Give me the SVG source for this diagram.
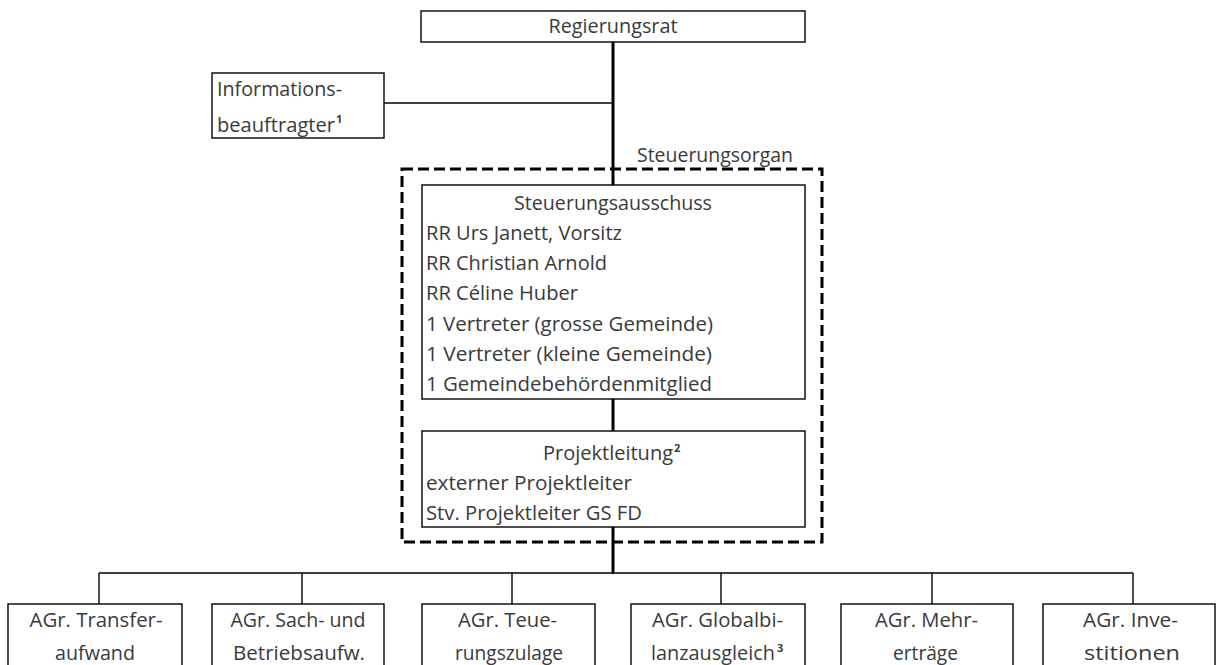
<svg xmlns="http://www.w3.org/2000/svg" width="1217" height="665" viewBox="0 0 1217 665">
<style>
.box{fill:#fff;stroke:#000;stroke-width:1.4}
.t{font-family:"Open Sans","Liberation Sans",sans-serif;font-size:20px;fill:#3a3a3a}
.m{text-anchor:middle}
.sup{font-family:"Open Sans","Liberation Sans",sans-serif;font-size:11px;font-weight:bold;fill:#3a3a3a}
.thin{stroke:#000;stroke-width:1.4;fill:none}
.thick{stroke:#000;stroke-width:3;fill:none}
.dash{stroke:#000;stroke-width:3;fill:none;stroke-dasharray:11 5}
</style>
<rect width="1217" height="665" fill="#fff"/>
<g id="connectors">
<line class="thick" x1="613" y1="42" x2="613" y2="185"/>
<line class="thin" x1="384" y1="103" x2="613" y2="103"/>
<line class="thick" x1="613" y1="399" x2="613" y2="431"/>
<line class="thick" x1="613" y1="527" x2="613" y2="574"/>
<line class="thin" x1="99" y1="573" x2="1133" y2="573"/>
<line class="thin" x1="99" y1="573" x2="99" y2="604"/>
<line class="thin" x1="302" y1="573" x2="302" y2="604"/>
<line class="thin" x1="512" y1="573" x2="512" y2="604"/>
<line class="thin" x1="721" y1="573" x2="721" y2="604"/>
<line class="thin" x1="932" y1="573" x2="932" y2="604"/>
<line class="thin" x1="1133" y1="573" x2="1133" y2="604"/>
</g>
<g id="regierungsrat">
<rect class="box" x="421" y="11" width="384" height="31"/>
<text class="t m" x="613" y="33" textLength="129" lengthAdjust="spacingAndGlyphs">Regierungsrat</text>
</g>
<g id="informationsbeauftragter">
<rect class="box" x="212" y="73" width="172" height="65"/>
<text class="t" x="217" y="96" textLength="125" lengthAdjust="spacingAndGlyphs">Informations-</text>
<text class="t" x="217" y="132" textLength="118" lengthAdjust="spacingAndGlyphs">beauftragter</text>
<text class="sup" x="336" y="123">1</text>
</g>
<g id="steuerungsorgan">
<rect class="dash" x="402" y="169" width="420" height="373"/>
<text class="t" x="637" y="162" textLength="156" lengthAdjust="spacingAndGlyphs">Steuerungsorgan</text>
</g>
<g id="steuerungsausschuss">
<rect class="box" x="422" y="185" width="383" height="214"/>
<text class="t m" x="613" y="210" textLength="198" lengthAdjust="spacingAndGlyphs">Steuerungsausschuss</text>
<text class="t" x="426" y="240" textLength="196" lengthAdjust="spacingAndGlyphs">RR Urs Janett, Vorsitz</text>
<text class="t" x="426" y="270" textLength="181" lengthAdjust="spacingAndGlyphs">RR Christian Arnold</text>
<text class="t" x="426" y="300" textLength="152" lengthAdjust="spacingAndGlyphs">RR Céline Huber</text>
<text class="t" x="426" y="331" textLength="287" lengthAdjust="spacingAndGlyphs">1 Vertreter (grosse Gemeinde)</text>
<text class="t" x="426" y="361" textLength="286" lengthAdjust="spacingAndGlyphs">1 Vertreter (kleine Gemeinde)</text>
<text class="t" x="426" y="391" textLength="286" lengthAdjust="spacingAndGlyphs">1 Gemeindebehördenmitglied</text>
</g>
<g id="projektleitung">
<rect class="box" x="422" y="431" width="383" height="96"/>
<text class="t" x="543" y="460" textLength="130" lengthAdjust="spacingAndGlyphs">Projektleitung</text>
<text class="sup" x="674" y="452">2</text>
<text class="t" x="426" y="490" textLength="206" lengthAdjust="spacingAndGlyphs">externer Projektleiter</text>
<text class="t" x="426" y="520" textLength="216" lengthAdjust="spacingAndGlyphs">Stv. Projektleiter GS FD</text>
</g>
<g id="agr-transferaufwand">
<rect class="box" x="8" y="604" width="174" height="80"/>
<text class="t m" x="96" y="627" textLength="133" lengthAdjust="spacingAndGlyphs">AGr. Transfer-</text>
<text class="t m" x="95" y="660" textLength="80" lengthAdjust="spacingAndGlyphs">aufwand</text>
</g>
<g id="agr-sach-betriebsaufwand">
<rect class="box" x="212" y="604" width="172" height="80"/>
<text class="t m" x="298" y="627" textLength="135" lengthAdjust="spacingAndGlyphs">AGr. Sach- und</text>
<text class="t m" x="299" y="660" textLength="132" lengthAdjust="spacingAndGlyphs">Betriebsaufw.</text>
</g>
<g id="agr-teuerungszulage">
<rect class="box" x="422" y="604" width="173" height="80"/>
<text class="t m" x="507.5" y="627" textLength="99" lengthAdjust="spacingAndGlyphs">AGr. Teue-</text>
<text class="t m" x="509" y="660" textLength="108" lengthAdjust="spacingAndGlyphs">rungszulage</text>
</g>
<g id="agr-globalbilanzausgleich">
<rect class="box" x="631" y="604" width="174" height="80"/>
<text class="t m" x="717.5" y="627" textLength="131" lengthAdjust="spacingAndGlyphs">AGr. Globalbi-</text>
<text class="t" x="651" y="660" textLength="124" lengthAdjust="spacingAndGlyphs">lanzausgleich</text>
<text class="sup" x="777" y="652">3</text>
</g>
<g id="agr-mehrertraege">
<rect class="box" x="841" y="604" width="172" height="80"/>
<text class="t m" x="926.5" y="627" textLength="103" lengthAdjust="spacingAndGlyphs">AGr. Mehr-</text>
<text class="t m" x="925.5" y="660" textLength="65" lengthAdjust="spacingAndGlyphs">erträge</text>
</g>
<g id="agr-investitionen">
<rect class="box" x="1043" y="604" width="172" height="80"/>
<text class="t m" x="1130.5" y="627" textLength="95" lengthAdjust="spacingAndGlyphs">AGr. Inve-</text>
<text class="t m" x="1132" y="660" textLength="96" lengthAdjust="spacingAndGlyphs">stitionen</text>
</g>
</svg>
